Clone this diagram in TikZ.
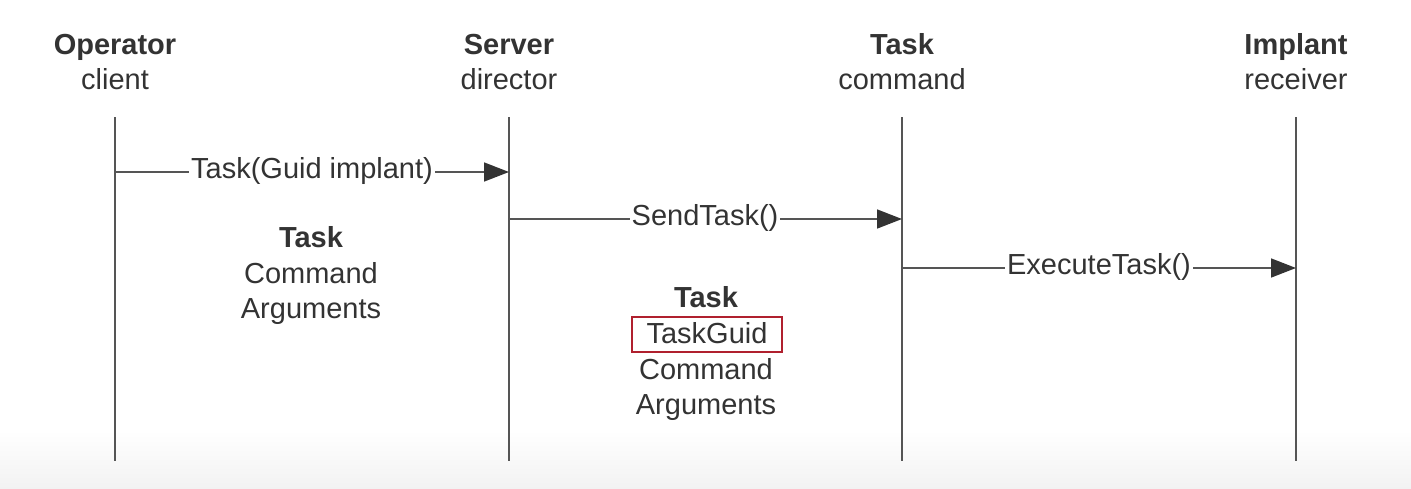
\documentclass[tikz,border=0pt]{standalone}
\usepackage{fontspec}
\setmainfont{Liberation Sans}
\usetikzlibrary{arrows.meta}
\definecolor{ink}{HTML}{333333}
\definecolor{lline}{HTML}{555555}
\definecolor{tipc}{HTML}{333333}
\definecolor{boxred}{HTML}{B0202E}
\tikzset{
  lbl/.style={font=\fontsize{29}{33}\selectfont, text=ink, inner sep=1pt, anchor=base},
  head/.style={lbl, font=\fontsize{29}{33}\selectfont\bfseries},
  life/.style={draw=lline, line width=1.6pt},
  msg/.style={draw=lline, line width=1.6pt, -{Triangle[length=25pt,width=19pt,fill=tipc,color=tipc]}},
  msglbl/.style={lbl, fill=white, inner xsep=2pt},
  redbox/.style={lbl, draw=boxred, line width=2pt, inner xsep=9pt, text depth=8pt, text height=25pt, minimum width=150pt}
}
\begin{document}
\begin{tikzpicture}[x=1pt,y=-1pt]
\useasboundingbox (0,0) rectangle (1411,488);
\shade[top color=white, bottom color=black!5] (0,430) rectangle (1411,488);
% headings
\node[head] (h1) at (115,54) {Operator};
\node[lbl] (s1) at (115,89) {client};
\node[head] (h2) at (509,54) {Server};
\node[lbl] (s2) at (509,89) {director};
\node[head] (h3) at (902,54) {Task};
\node[lbl] (s3) at (902,89) {command};
\node[head] (h4) at (1296,54) {Implant};
\node[lbl] (s4) at (1296,89) {receiver};
% lifelines
\coordinate (t1) at (115,117); \coordinate (b1) at (115,461);
\coordinate (t2) at (509,117); \coordinate (b2) at (509,461);
\coordinate (t3) at (902,117); \coordinate (b3) at (902,461);
\coordinate (t4) at (1296,117); \coordinate (b4) at (1296,461);
\draw[life] (t1) -- (b1);
\draw[life] (t2) -- (b2);
\draw[life] (t3) -- (b3);
\draw[life] (t4) -- (b4);
% messages
\coordinate (m1a) at (115,172); \coordinate (m1b) at (509,172);
\coordinate (m2a) at (509,219); \coordinate (m2b) at (902,219);
\coordinate (m3a) at (902,268); \coordinate (m3b) at (1296,268);
\draw[msg] (m1a) -- (m1b);
\draw[msg] (m2a) -- (m2b);
\draw[msg] (m3a) -- (m3b);
\node[msglbl] (l1) at (312,178) {Task(Guid implant)};
\node[msglbl] (l2) at (705,225) {SendTask()};
\node[msglbl] (l3) at (1099,274) {ExecuteTask()};
% payloads
\node[head] (p1t) at (311,247) {Task};
\node[lbl] (p1c) at (311,283) {Command};
\node[lbl] (p1a) at (311,318) {Arguments};
\node[head] (p2t) at (706,307) {Task};
\node[redbox] (p2g) at (707,343) {TaskGuid};
\node[lbl] (p2c) at (706,379) {Command};
\node[lbl] (p2a) at (706,414) {Arguments};
\end{tikzpicture}
\end{document}
